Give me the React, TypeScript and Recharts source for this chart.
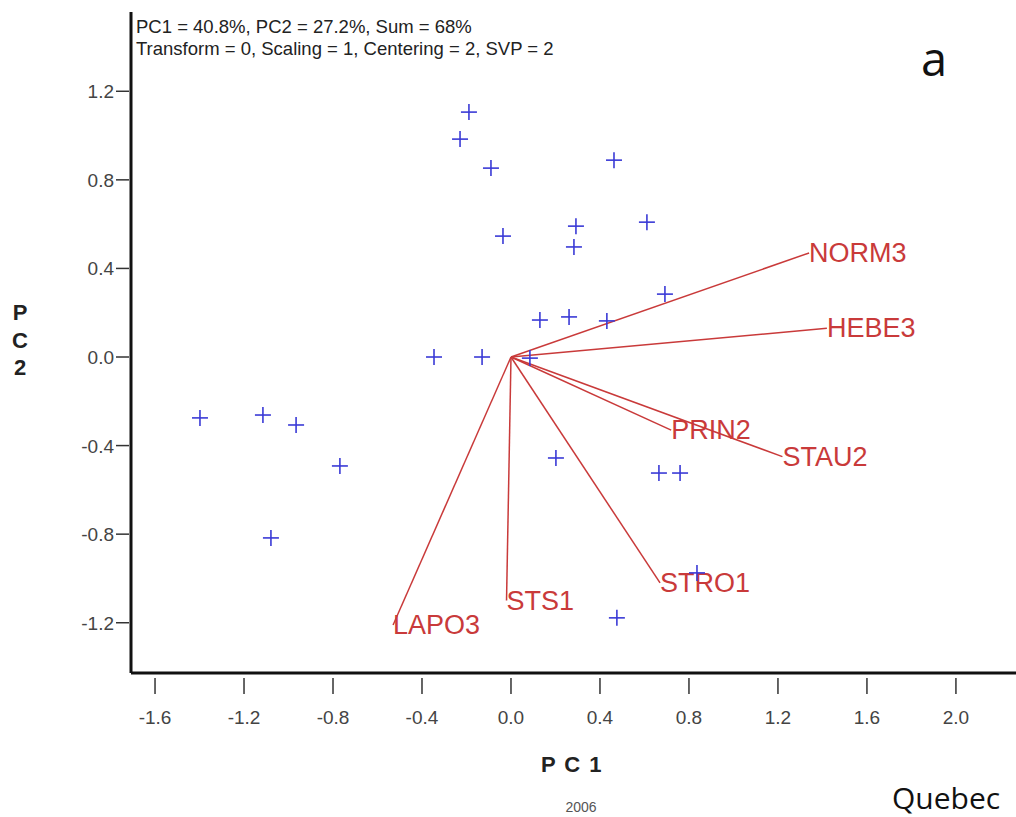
import React from 'react';
import { ScatterChart, Scatter, XAxis, YAxis } from 'recharts';

// Observation scores (PC1, PC2)
const obsX = [-0.189, -0.229, -0.09, 0.463, -0.036, 0.292, 0.283, 0.611, 0.692, 0.13, 0.261, 0.431, -0.346, -0.13, 0.085, -1.398, -1.115, -0.966, -0.769, -1.079, 0.202, 0.665, 0.76, 0.836, 0.476];
const obsY = [1.106, 0.984, 0.853, 0.889, 0.546, 0.591, 0.497, 0.609, 0.284, 0.167, 0.181, 0.163, 0.0, 0.0, -0.005, -0.275, -0.262, -0.307, -0.492, -0.817, -0.456, -0.524, -0.524, -0.975, -1.178];

// Variable loadings (vector end points)
const varNames = ['NORM3', 'HEBE3', 'PRIN2', 'STAU2', 'STRO1', 'STS1', 'LAPO3'];
const varX = [1.34, 1.42, 0.72, 1.22, 0.67, -0.02, -0.53];
const varY = [0.47, 0.13, -0.33, -0.45, -1.02, -1.1, -1.21];

const xTicks = [-1.6, -1.2, -0.8, -0.4, 0.0, 0.4, 0.8, 1.2, 1.6, 2.0];
const yTicks = [-1.2, -0.8, -0.4, 0.0, 0.4, 0.8, 1.2];

const X_DOMAIN: [number, number] = [-1.708, 2.27];
const Y_DOMAIN: [number, number] = [-1.427, 1.558];

const obsData = obsX.map((x, i) => ({ x, y: obsY[i] }));
const vectorData = varNames.map((name, i) => [
  { x: 0, y: 0, name: '' },
  { x: varX[i], y: varY[i], name },
]);

const FONT = '"Liberation Sans", Arial, sans-serif';
const RED = '#c93a3a';
const BLUE = '#3a3ad6';

const PlusShape = (props: any) => {
  const { cx, cy } = props;
  if (cx == null || cy == null) return <g />;
  return (
    <g>
      <line x1={cx - 8} x2={cx + 8} y1={cy} y2={cy} stroke={BLUE} strokeWidth={1.6} />
      <line x1={cx} x2={cx} y1={cy - 8} y2={cy + 8} stroke={BLUE} strokeWidth={1.6} />
    </g>
  );
};

const VarEnd = (props: any) => {
  const { cx, cy, payload } = props;
  if (!payload || !payload.name) return <g />;
  return (
    <text x={cx} y={cy + 9} fontSize={27} fill={RED} fontFamily={FONT}>
      {payload.name}
    </text>
  );
};

const XTick = (props: any) => {
  const { x, y, payload } = props;
  return (
    <g>
      <line x1={x} x2={x} y1={y + 5} y2={y + 21} stroke="#333" strokeWidth={1.5} />
      <text x={x} y={y + 51} textAnchor="middle" fontSize={19} fill="#444" fontFamily={FONT}>
        {Number(payload.value).toFixed(1)}
      </text>
    </g>
  );
};

const YTick = (props: any) => {
  const { x, y, payload } = props;
  return (
    <g>
      <line x1={x - 15} x2={x - 2} y1={y} y2={y} stroke="#333" strokeWidth={1.5} />
      <text x={x - 17} y={y + 7} textAnchor="end" fontSize={19} fill="#444" fontFamily={FONT}>
        {Number(payload.value).toFixed(1)}
      </text>
    </g>
  );
};

const abs = (s: React.CSSProperties): React.CSSProperties => ({ position: 'absolute', margin: 0, whiteSpace: 'nowrap', ...s });

export default function App() {
  return (
    <div style={{ position: 'absolute', left: 0, top: 0, width: 1016, height: 817, overflow: 'hidden', background: '#fff' }}>
      <ScatterChart width={1016} height={817} margin={{ top: 12, right: 0, bottom: 0, left: 0 }}>
        <XAxis
          type="number"
          dataKey="x"
          domain={X_DOMAIN}
          ticks={xTicks}
          allowDataOverflow
          height={144}
          tickSize={0}
          tickMargin={0}
          tickLine={false}
          tick={<XTick />}
          axisLine={{ stroke: '#111', strokeWidth: 3 }}
          interval={0}
        />
        <XAxis
          xAxisId="top"
          orientation="top"
          type="number"
          dataKey="x"
          domain={X_DOMAIN}
          allowDataOverflow
          height={0}
          tick={false}
          tickLine={false}
          axisLine={{ stroke: '#111', strokeWidth: 3 }}
        />
        <YAxis
          type="number"
          dataKey="y"
          domain={Y_DOMAIN}
          ticks={yTicks}
          allowDataOverflow
          width={131}
          tickSize={0}
          tickMargin={0}
          tickLine={false}
          tick={<YTick />}
          axisLine={{ stroke: '#111', strokeWidth: 3 }}
          interval={0}
        />
        {vectorData.map((d, i) => (
          <Scatter
            key={varNames[i]}
            data={d}
            line={{ stroke: RED, strokeWidth: 1.5 }}
            shape={<VarEnd />}
            isAnimationActive={false}
          />
        ))}
        <Scatter data={obsData} shape={<PlusShape />} isAnimationActive={false} />
      </ScatterChart>

      <div style={abs({ left: 136, top: 16, fontFamily: FONT, fontSize: 18.5, lineHeight: '22px', color: '#222' })}>
        PC1 = 40.8%, PC2 = 27.2%, Sum = 68%
        <br />
        Transform = 0, Scaling = 1, Centering = 2, SVP = 2
      </div>
      <div style={abs({ left: 921, top: 28, fontFamily: '"Open Sans", sans-serif', fontSize: 47, lineHeight: '60px', color: '#111' })}>a</div>
      <div style={abs({ left: 522, top: 750, width: 100, textAlign: 'center', fontFamily: FONT, fontWeight: 'bold', fontSize: 22, letterSpacing: 1.5, lineHeight: '30px', color: '#222' })}>P C 1</div>
      <div style={abs({ left: 551, top: 798, width: 60, textAlign: 'center', fontFamily: FONT, fontSize: 14, lineHeight: '18px', color: '#555' })}>2006</div>
      <div style={abs({ left: 0, top: 299, width: 40, textAlign: 'center', fontFamily: FONT, fontWeight: 'bold', fontSize: 22, lineHeight: '27.5px', color: '#222', whiteSpace: 'normal' })}>
        P<br />C<br />2
      </div>
      <div style={abs({ left: 892, top: 778, fontFamily: '"Open Sans", sans-serif', fontSize: 30, lineHeight: '40px', color: '#111' })}>Quebec</div>
    </div>
  );
}
